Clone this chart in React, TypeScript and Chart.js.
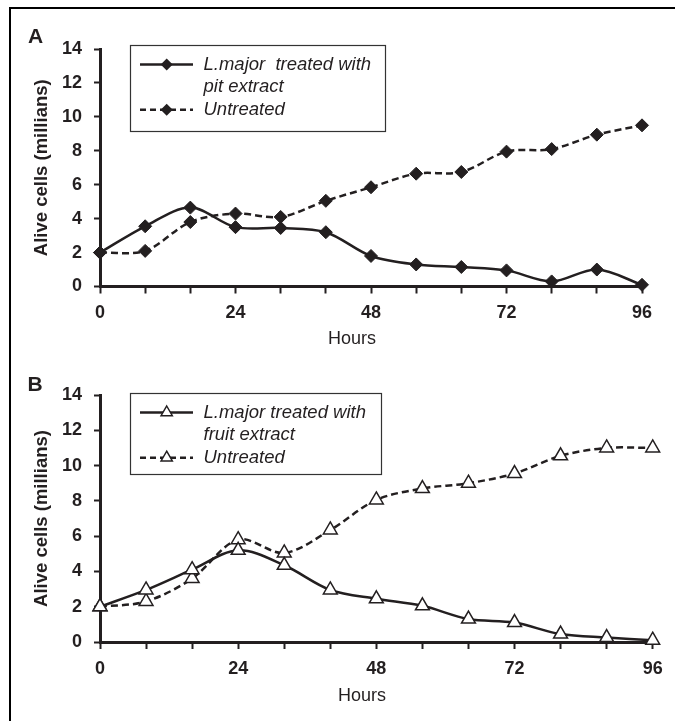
import React, { useEffect, useRef } from 'react';
import { Chart, registerables } from 'chart.js';

Chart.register(...registerables);

// ---- data ----
const hours = [0, 8, 16, 24, 32, 40, 48, 56, 64, 72, 80, 88, 96];
const xLabelHours = [0, 24, 48, 72, 96];
const yTickValues = [0, 2, 4, 6, 8, 10, 12, 14];

const pitTreated = [2.0, 3.55, 4.65, 3.5, 3.45, 3.2, 1.8, 1.3, 1.15, 0.95, 0.3, 1.0, 0.1];
const pitUntreated = [2.0, 2.1, 3.8, 4.3, 4.1, 5.05, 5.85, 6.65, 6.75, 7.95, 8.1, 8.95, 9.5];
const fruitTreated = [2.0, 2.95, 4.1, 5.2, 4.35, 2.95, 2.45, 2.05, 1.3, 1.1, 0.45, 0.25, 0.1];
const fruitUntreated = [2.0, 2.3, 3.6, 5.8, 5.05, 6.35, 8.05, 8.7, 9.0, 9.55, 10.55, 11.0, 11.0];

const pitLegend = ['L.major  treated with', 'pit extract'];
const fruitLegend = ['L.major treated with', 'fruit extract'];
const untreatedLabel = 'Untreated';
const yTitle = 'Alive cells (millians)';
const xTitle = 'Hours';

const INK = '#231f20';
const FONT = "'Liberation Sans', Arial, Helvetica, sans-serif";

type MarkerStyle = 'rectRot' | 'triangle';

type Panel = {
  letter: string;
  treated: number[];
  untreated: number[];
  marker: MarkerStyle;
  treatedLabel: string[];
  top: number;
  height: number;
  area: { left: number; top: number; right: number; bottom: number };
  letterPos: [number, number];
  xTitlePos: [number, number];
  legendBox: [number, number, number, number];
  legendRows: [number, number, number];
};

const panels: Panel[] = [
  {
    letter: 'A',
    treated: pitTreated,
    untreated: pitUntreated,
    marker: 'rectRot',
    treatedLabel: pitLegend,
    top: 0,
    height: 360,
    area: { left: 100, top: 49, right: 642, bottom: 286.5 },
    letterPos: [35.5, 37.5],
    xTitlePos: [352, 339],
    legendBox: [130, 45, 255, 86],
    legendRows: [64.5, 87, 109.7],
  },
  {
    letter: 'B',
    treated: fruitTreated,
    untreated: fruitUntreated,
    marker: 'triangle',
    treatedLabel: fruitLegend,
    top: 360,
    height: 361,
    area: { left: 100, top: 35, right: 652.7, bottom: 282 },
    letterPos: [35, 25],
    xTitlePos: [362, 336.5],
    legendBox: [130, 33, 251, 81],
    legendRows: [52.5, 75, 97.7],
  },
];

function drawMarker(ctx: CanvasRenderingContext2D, style: MarkerStyle, x: number, y: number) {
  ctx.save();
  ctx.beginPath();
  if (style === 'rectRot') {
    const r = 6;
    ctx.moveTo(x - r, y);
    ctx.lineTo(x, y - r);
    ctx.lineTo(x + r, y);
    ctx.lineTo(x, y + r);
    ctx.closePath();
    ctx.fillStyle = INK;
    ctx.fill();
  } else {
    const r = 6.5;
    ctx.moveTo(x, y - r);
    ctx.lineTo(x + r * 0.866, y + r / 2);
    ctx.lineTo(x - r * 0.866, y + r / 2);
    ctx.closePath();
    ctx.fillStyle = '#ffffff';
    ctx.fill();
    ctx.lineWidth = 1.5;
    ctx.strokeStyle = INK;
    ctx.stroke();
  }
  ctx.restore();
}

function PanelChart({ p }: { p: Panel }) {
  const ref = useRef<HTMLCanvasElement>(null);

  useEffect(() => {
    const canvas = ref.current;
    if (!canvas) return;

    const overlay = {
      id: 'overlay-' + p.letter,
      afterDraw(chart: any) {
        const ctx: CanvasRenderingContext2D = chart.ctx;
        ctx.save();
        // panel letter
        ctx.fillStyle = INK;
        ctx.textAlign = 'center';
        ctx.textBaseline = 'middle';
        ctx.font = `bold 21px ${FONT}`;
        ctx.fillText(p.letter, p.letterPos[0], p.letterPos[1]);
        // x title
        ctx.font = `18px ${FONT}`;
        ctx.fillText(xTitle, p.xTitlePos[0], p.xTitlePos[1]);
        // legend
        const [bx, by, bw, bh] = p.legendBox;
        ctx.fillStyle = '#ffffff';
        ctx.fillRect(bx, by, bw, bh);
        ctx.strokeStyle = '#333333';
        ctx.lineWidth = 1.2;
        ctx.strokeRect(bx + 0.5, by + 0.5, bw, bh);
        const lx1 = 140;
        const lx2 = 193;
        const mx = 166.7;
        const tx = 203.5;
        const rows = p.legendRows;
        // treated sample
        ctx.beginPath();
        ctx.setLineDash([]);
        ctx.lineWidth = 2.5;
        ctx.strokeStyle = INK;
        ctx.moveTo(lx1, rows[0]);
        ctx.lineTo(lx2, rows[0]);
        ctx.stroke();
        drawMarker(ctx, p.marker, mx, rows[0]);
        // untreated sample
        ctx.beginPath();
        ctx.setLineDash([6, 4]);
        ctx.lineWidth = 2.5;
        ctx.strokeStyle = INK;
        ctx.moveTo(lx1, rows[2]);
        ctx.lineTo(lx2, rows[2]);
        ctx.stroke();
        ctx.setLineDash([]);
        drawMarker(ctx, p.marker, mx, rows[2]);
        // legend text
        ctx.fillStyle = INK;
        ctx.textAlign = 'left';
        ctx.textBaseline = 'middle';
        ctx.font = `italic 18.5px ${FONT}`;
        ctx.fillText(p.treatedLabel[0], tx, rows[0]);
        ctx.fillText(p.treatedLabel[1], tx, rows[1]);
        ctx.fillText(untreatedLabel, tx, rows[2]);
        ctx.restore();
      },
    };

    const mkData = (vals: number[]) => hours.map((h, i) => ({ x: h, y: vals[i] }));
    const isTri = p.marker === 'triangle';

    const common = {
      borderColor: INK,
      borderWidth: 2.5,
      tension: 0.33,
      clip: false,
      pointStyle: p.marker,
      pointRadius: isTri ? 8 : 6.5,
      pointBackgroundColor: isTri ? '#ffffff' : INK,
      pointBorderColor: INK,
      pointBorderWidth: isTri ? 1.5 : 1,
      fill: false,
    };

    const chart = new Chart(canvas, {
      type: 'line',
      data: {
        datasets: [
          {
            ...common,
            label: p.treatedLabel.join(' '),
            data: mkData(p.treated),
          },
          {
            ...common,
            label: untreatedLabel,
            data: mkData(p.untreated),
            borderDash: [7, 4],
          },
        ],
      },
      options: {
        animation: false,
        responsive: false,
        maintainAspectRatio: false,
        events: [],
        layout: {
          padding: { left: 0, top: p.area.top, right: 675 - p.area.right, bottom: 0 },
        },
        plugins: {
          legend: { display: false },
          tooltip: { enabled: false },
          title: { display: false },
        },
        scales: {
          x: {
            type: 'linear',
            min: 0,
            max: 96,
            afterBuildTicks: (s: any) => {
              s.ticks = hours.map((v) => ({ value: v }));
            },
            afterFit: (s: any) => {
              s.height = p.height - p.area.bottom;
            },
            ticks: {
              autoSkip: false,
              maxRotation: 0,
              padding: 9,
              color: INK,
              font: { family: FONT, size: 18, weight: 'bold' },
              callback: (v: any) => (xLabelHours.includes(Number(v)) ? String(v) : ''),
            },
            grid: {
              display: true,
              drawOnChartArea: false,
              drawTicks: true,
              tickLength: 7,
              tickWidth: 2,
              tickColor: INK,
            },
            border: { display: true, color: INK, width: 3 },
          },
          y: {
            type: 'linear',
            min: 0,
            max: 14,
            afterBuildTicks: (s: any) => {
              s.ticks = yTickValues.map((v) => ({ value: v }));
            },
            afterFit: (s: any) => {
              s.width = p.area.left;
            },
            ticks: {
              padding: 12,
              color: INK,
              font: { family: FONT, size: 18, weight: 'bold' },
            },
            grid: {
              display: true,
              drawOnChartArea: false,
              drawTicks: true,
              tickLength: 6,
              tickWidth: 2,
              tickColor: INK,
            },
            border: { display: true, color: INK, width: 3 },
            title: {
              display: true,
              text: yTitle,
              color: INK,
              font: { family: FONT, size: 18.5, weight: 'bold' },
              padding: { top: 31, bottom: 0 },
            },
          },
        },
      },
      plugins: [overlay],
    } as any);

    return () => chart.destroy();
  }, [p]);

  return (
    <canvas
      ref={ref}
      width={675}
      height={p.height}
      style={{ position: 'absolute', left: 0, top: p.top, width: 675, height: p.height }}
    />
  );
}

export default function App() {
  return (
    <div
      style={{
        position: 'absolute',
        left: 0,
        top: 0,
        width: 675,
        height: 721,
        overflow: 'hidden',
        background: '#ffffff',
      }}
    >
      <div
        style={{
          position: 'absolute',
          left: 9,
          top: 7,
          width: 720,
          height: 780,
          borderLeft: '2px solid #000',
          borderTop: '2px solid #000',
        }}
      />
      {panels.map((p) => (
        <PanelChart key={p.letter} p={p} />
      ))}
    </div>
  );
}
